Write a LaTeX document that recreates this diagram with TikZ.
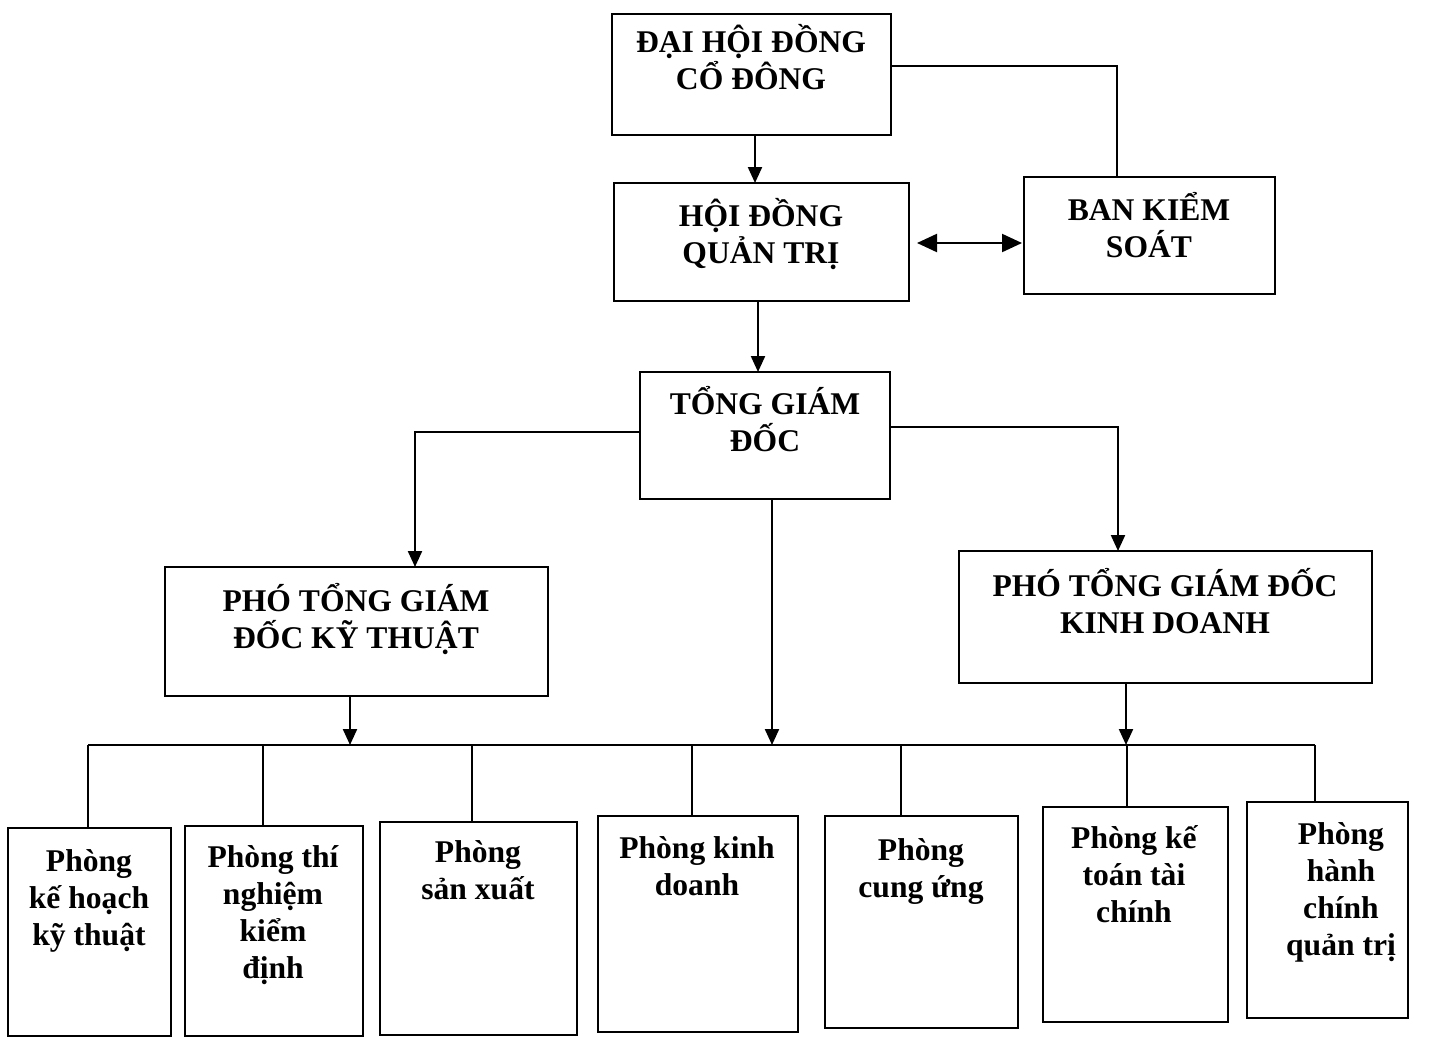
\documentclass[tikz,border=0pt]{standalone}
\usepackage{fontspec}
\setmainfont{Liberation Serif}
\usetikzlibrary{arrows.meta}
\newcommand\ftstrut{\rule{0pt}{16pt}}
\newcommand\mkbox[5]{\node[box, anchor=north west, minimum width={(#4-#2)*0.5pt}, minimum height={(#5-#3)*0.5pt}] (#1) at (#2,#3) {};}
\tikzset{
  box/.style={draw, line width=1.4pt, inner sep=0pt, outer sep=0pt},
  txt/.style={font=\fontsize{15.8}{18.5}\selectfont\bfseries, align=center, inner sep=0pt, anchor=north},
  line/.style={line width=1.1pt},
  arr/.style={line, -{Triangle[length=8pt,width=7pt]}},
  dbl/.style={line, {Triangle[length=10pt,width=9pt]}-{Triangle[length=10pt,width=9pt]}}
}
\begin{document}
\begin{tikzpicture}[x=0.5pt,y=-0.5pt]
\useasboundingbox (0,0) rectangle (1447,1039);
\fill[white] (0,0) rectangle (1447,1039);
% top boxes
\mkbox{A}{612}{14}{891}{135}
\mkbox{B}{614}{183}{909}{301}
\mkbox{C}{1024}{177}{1275}{294}
\mkbox{D}{640}{372}{890}{499}
\mkbox{E}{165}{567}{548}{696}
\mkbox{F}{959}{551}{1372}{683}
% bottom boxes
\mkbox{p1}{8}{828}{171}{1036}
\mkbox{p2}{185}{826}{363}{1036}
\mkbox{p3}{380}{822}{577}{1035}
\mkbox{p4}{598}{816}{798}{1032}
\mkbox{p5}{825}{816}{1018}{1028}
\mkbox{p6}{1043}{807}{1228}{1022}
\mkbox{p7}{1247}{802}{1408}{1018}
% texts
\node[txt] (tA) at (751,20) {\ftstrut ĐẠI HỘI ĐỒNG\\CỔ ĐÔNG};
\node[txt] (tB) at (761,194) {\ftstrut HỘI ĐỒNG\\QUẢN TRỊ};
\node[txt] (tC) at (1149,188) {\ftstrut BAN KIỂM\\SOÁT};
\node[txt] (tD) at (765,382) {\ftstrut TỔNG GIÁM\\ĐỐC};
\node[txt] (tE) at (356,579) {\ftstrut PHÓ TỔNG GIÁM\\ĐỐC KỸ THUẬT};
\node[txt] (tF) at (1165,564) {\ftstrut PHÓ TỔNG GIÁM ĐỐC\\KINH DOANH};
\node[txt] (t1) at (89,839) {\ftstrut Phòng\\kế hoạch\\kỹ thuật};
\node[txt] (t2) at (273,835) {\ftstrut Phòng thí\\nghiệm\\kiểm\\định};
\node[txt] (t3) at (478,830) {\ftstrut Phòng\\sản xuất};
\node[txt] (t4) at (697,826) {\ftstrut Phòng kinh\\doanh};
\node[txt] (t5) at (921,828) {\ftstrut Phòng\\cung ứng};
\node[txt] (t6) at (1134,816) {\ftstrut Phòng kế\\toán tài\\chính};
\node[txt] (t7) at (1341,812) {\ftstrut Phòng\\hành\\chính\\quản trị};
% helper coordinates
\coordinate (ac) at (1117,66);
\coordinate (bc) at (0,243);
\coordinate (de) at (415,432);
\coordinate (df) at (1118,427);
\coordinate (db) at (772,745);
\coordinate (eb) at (350,745);
\coordinate (fb) at (1126,745);
\coordinate (b1) at (88,745);
\coordinate (b2) at (263,745);
\coordinate (b3) at (472,745);
\coordinate (b4) at (692,745);
\coordinate (b5) at (901,745);
\coordinate (b6) at (1127,745);
\coordinate (b7) at (1315,745);
% connectors
\draw[arr] (A.south -| {(755,0)}) -- (B.north -| {(755,0)});
\draw[line] (A.east |- ac) -- (ac) -- (ac |- C.north);
\draw[dbl] ([xshift=4pt]B.east |- bc) -- ([xshift=-1pt]C.west |- bc);
\draw[arr] (B.south -| {(758,0)}) -- (D.north -| {(758,0)});
\draw[arr] (D.west |- de) -- (de) -- (de |- E.north);
\draw[arr] (D.east |- df) -- (df) -- (df |- F.north);
\draw[arr] (D.south -| db) -- (db);
\draw[arr] (E.south -| eb) -- (eb);
\draw[arr] (F.south -| fb) -- (fb);
\draw[line] (b1) -- (b7);
\foreach \i in {1,...,7} \draw[line] (b\i) -- (b\i |- p\i.north);
\end{tikzpicture}
\end{document}
